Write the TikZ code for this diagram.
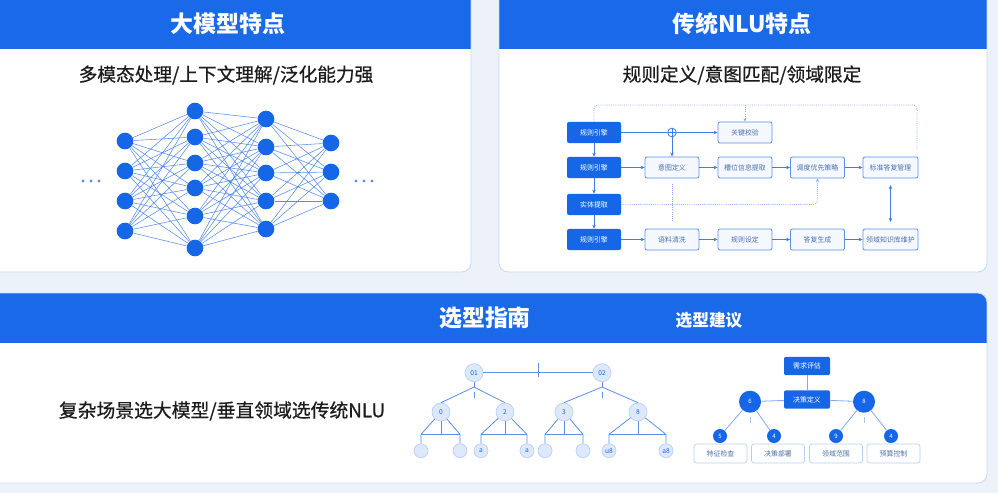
\documentclass[tikz,border=0pt]{standalone}
\usepackage{fontspec}
\setmainfont{Noto Sans CJK SC}
\newfontfamily\semifont[FakeBold=0.6]{Noto Sans CJK SC}
\usetikzlibrary{arrows.meta,positioning,calc}
\definecolor{pagebg}{HTML}{EDF2FA}
\definecolor{headblue}{HTML}{1A69E8}
\definecolor{nodeblue}{HTML}{1567E8}
\definecolor{edgeblue}{HTML}{3E7BE6}
\definecolor{lineblue}{HTML}{5B90E8}
\definecolor{paleblue}{HTML}{DDE9FB}
\definecolor{rimblue}{HTML}{B9CFF2}
\definecolor{dotblue}{HTML}{82AAEE}
\definecolor{inkgray}{HTML}{1C1C1C}
\definecolor{boxtext}{HTML}{4D70A8}
\definecolor{boxfill}{HTML}{F5F9FF}
\tikzset{
  panelrim/.style={draw=rimblue!80, line width=0.6pt, rounded corners=7pt},
  headtitle/.style={text=white, font=\fontsize{17.2}{20}\selectfont\bfseries},
  subtitle/.style={text=inkgray, font=\semifont\fontsize{14}{17}\selectfont},
  neuron/.style={circle, fill=nodeblue, inner sep=0pt, minimum size=12.5pt},
  synapse/.style={edgeblue, line width=0.42pt, opacity=0.85},
  rulebox/.style={rectangle, rounded corners=1.5pt, fill=nodeblue,
    text=white, minimum width=40.5pt, minimum height=15.8pt,
    inner sep=0pt, font=\fontsize{5.2}{6}\selectfont},
  stepbox/.style={rectangle, rounded corners=1.5pt, draw=lineblue,
    fill=boxfill, line width=0.6pt, text=boxtext,
    minimum width=#1, minimum height=15.8pt,
    inner sep=0pt, font=\fontsize{5.2}{6}\selectfont},
  stepbox/.default=40.5pt,
  flowarrow/.style={-{Stealth[length=3pt,width=2.6pt]}, edgeblue, line width=0.6pt},
  dotline/.style={dotblue, densely dotted, line width=0.6pt, rounded corners=3pt},
  treenode/.style={circle, fill=paleblue, draw=rimblue, line width=0.5pt,
    inner sep=0pt, minimum size=#1, text=nodeblue,
    font=\fontsize{5}{6}\selectfont},
  treenode/.default=13.5pt,
  treeline/.style={lineblue, line width=0.6pt},
  bluedot/.style={circle, fill=nodeblue, inner sep=0pt, minimum size=#1,
    text=white, font=\fontsize{4.5}{5}\selectfont},
  bluedot/.default=10.5pt,
  tagbox/.style={rectangle, rounded corners=2pt, fill=white, draw=rimblue,
    line width=0.5pt, text=boxtext, minimum width=39.8pt,
    minimum height=14.3pt, inner sep=0pt, font=\fontsize{5.2}{6}\selectfont},
  pickbox/.style={rectangle, rounded corners=1.5pt, fill=nodeblue,
    text=white, minimum width=34.5pt, minimum height=13.8pt,
    inner sep=0pt, font=\fontsize{5.2}{6}\selectfont},
}

\begin{document}
\begin{tikzpicture}[x=0.75pt, y=-0.75pt]
\fill[pagebg] (0,0) rectangle (998,493);
\useasboundingbox (0,0) rectangle (998,493);
\clip (0,0) rectangle (998,493);

% panels with blue headers
\foreach \xa/\ya/\xb/\yb/\hb in {-12/-12/471/272/49, 499/-12/987/272/49, -12/293/987/483/343} {
  \begin{scope}
    \clip[rounded corners=7pt] (\xa,\ya) rectangle (\xb,\yb);
    \fill[white] (\xa,\ya) rectangle (\xb,\yb);
    \fill[headblue] (\xa,\ya) rectangle (\xb,\hb);
  \end{scope}
  \draw[panelrim] (\xa,\ya) rectangle (\xb,\yb);
}

\node[headtitle] (llmtitle) at (228,24) {大模型特点};
\node[headtitle] (nlutitle) at (742,24) {传统NLU特点};
\node[headtitle] (guidetitle) at (485,318) {选型指南};
\node[text=white, font=\fontsize{12.5}{15}\selectfont\bfseries] (advice) at (709,320) {选型建议};
\node[subtitle] (llmsub) at (226,75) {多模态处理/上下文理解/泛化能力强};
\node[subtitle] (nlusub) at (742,75) {规则定义/意图匹配/领域限定};
\node[subtitle, font=\semifont\fontsize{14.1}{17}\selectfont] (pickrule) at (222,411) {复杂场景选大模型/垂直领域选传统NLU};

% neural network
\foreach \y [count=\i] in {141,171,201,231} \node[neuron] (a\i) at (125,\y) {};
\foreach \y [count=\i] in {111,137,163,188,216,248} \node[neuron] (b\i) at (195,\y) {};
\foreach \y [count=\i] in {119,147,173,201,229} \node[neuron] (c\i) at (266,\y) {};
\foreach \y [count=\i] in {143,172,201} \node[neuron] (d\i) at (331,\y) {};
\foreach \i in {1,...,4} \foreach \j in {1,...,6} \draw[synapse] (a\i) -- (b\j);
\foreach \i in {1,...,6} \foreach \j in {1,...,5} \draw[synapse] (b\i) -- (c\j);
\foreach \i in {1,...,5} \foreach \j in {1,...,3} \draw[synapse] (c\i) -- (d\j);
\foreach \x in {83,91,99,356,364,372} \fill[lineblue] (\x,181) circle (1.6);

% rule pipeline
\node[rulebox] (r1) at (594,132.5) {规则引擎};
\node[rulebox] (r2) at (594,167.5) {规则引擎};
\node[rulebox] (r3) at (594,204.5) {实体提取};
\node[rulebox] (r4) at (594,239.5) {规则引擎};
\node[circle, draw=edgeblue, fill=white, line width=0.6pt, minimum size=6.5pt, inner sep=0pt,
  path picture={\draw[edgeblue, line width=0.5pt]
    (path picture bounding box.north) -- (path picture bounding box.south)
    (path picture bounding box.west) -- (path picture bounding box.east);}] (plus) at (672,132.5) {};
\node[stepbox] (k1) at (745,132.5) {关键校验};
\node[stepbox] (q2) at (672,167.5) {意图定义};
\node[stepbox] (k2) at (745,167.5) {槽位信息提取};
\node[stepbox] (m2) at (817.5,167.5) {调度优先策略};
\node[stepbox=41.3pt] (n2) at (890.5,167.5) {标准答复管理};
\node[stepbox] (q4) at (672,239.5) {语料清洗};
\node[stepbox] (k4) at (745,239.5) {规则设定};
\node[stepbox] (m4) at (817.5,239.5) {答复生成};
\node[stepbox=41.3pt] (n4) at (890.5,239.5) {领域知识库维护};

\draw[edgeblue, line width=0.6pt] (r1) -- (plus);
\draw[flowarrow] (plus) -- (k1);
\draw[flowarrow] (plus) -- (q2);
\foreach \u/\v in {r1/r2, r2/r3, r3/r4} \draw[flowarrow] (\u) -- (\v);
\foreach \u/\v in {r2/q2, q2/k2, k2/m2, m2/n2, r4/q4, q4/k4, k4/m4, m4/n4} \draw[flowarrow] (\u) -- (\v);
\draw[{Stealth[length=3pt,width=2.6pt]}-{Stealth[length=3pt,width=2.6pt]}, edgeblue, line width=0.6pt,
  shorten <=5pt, shorten >=5pt] (n2) -- (n4);

% dotted feedback paths
\coordinate (loopL) at (594,105);
\coordinate (loopM) at (745,105);
\coordinate (loopR) at (917,105);
\coordinate (loopEnd) at (917,150);
\draw[dotline] (r1.north) -- (loopL) -- (loopR) -- (loopEnd);
\draw[dotline, -{Stealth[length=2.6pt,width=2.4pt]}] (loopM) -- (k1.north);
\draw[dotline, -{Stealth[length=2.6pt,width=2.4pt]}] (r3.east) -| (m2.south);
\draw[dotline, shorten <=4pt, shorten >=5pt] (q2) -- (q4);

% selection trees
\node[treenode] (t1) at (474,372.7) {01};
\node[treenode] (t2) at (602,372.7) {02};
\draw[treeline] (t1) -- (t2) coordinate[midway] (tmid);
\draw[treeline] ($(tmid)+(0,-10)$) -- ($(tmid)+(0,4)$);
\node[treenode] (u1) at (441,412) {0};
\node[treenode] (u2) at (505,412) {2};
\node[treenode] (u3) at (564,412) {3};
\node[treenode] (u4) at (638,412) {8};
\foreach \p/\l/\r in {t1/u1/u2, t2/u3/u4} {
  \draw[treeline] (\p.south) -- ++(0,5) coordinate (\p fork);
  \draw[treeline] (\p fork) -- (\l.north);
  \draw[treeline] (\p fork) -- (\r.north);
  \draw[treeline] ($(\p fork)+(0,5)$) -- ++(0,6);
}
\node[treenode=10.5pt] (v1) at (421,450.7) {};
\node[treenode=10.5pt] (v2) at (460,450.7) {};
\node[treenode=10.5pt] (v3) at (481,450.7) {a};
\node[treenode=10.5pt] (v4) at (527,450.7) {a};
\node[treenode=10.5pt] (v5) at (545,450.7) {};
\node[treenode=10.5pt] (v6) at (583,450.7) {};
\node[treenode=10.5pt] (v7) at (609,450.7) {u8};
\node[treenode=10.5pt] (v8) at (666,450.7) {a8};
\foreach \p/\l/\r in {u1/v1/v2, u2/v3/v4, u3/v5/v6, u4/v7/v8} {
  \draw[treeline] (\l.north) -- ++(0,-9) coordinate (\l top) -- (\p);
  \draw[treeline] (\r.north) -- ++(0,-9) coordinate (\r top) -- (\p);
  \draw[treeline] (\l top) -- (\r top);
  \draw[treeline] (\p.south) -- (\p.south |- \l top);
}

% decision tree
\node[pickbox] (p1) at (807,366) {需求评估};
\node[pickbox] (p2) at (807,399.5) {决策定义};
\node[bluedot=16.5pt] (g1) at (750,401.7) {6};
\node[bluedot=16.5pt] (g2) at (864,401.7) {8};
\node[bluedot] (s1) at (720,436) {5};
\node[bluedot] (s2) at (774,436) {4};
\node[bluedot] (s3) at (836,436) {9};
\node[bluedot] (s4) at (891,436) {4};
\node[tagbox] (w1) at (720.5,453.5) {特征检查};
\node[tagbox] (w2) at (778,453.5) {决策部署};
\node[tagbox] (w3) at (836,453.5) {领域范围};
\node[tagbox] (w4) at (893.5,453.5) {预算控制};
\draw[treeline, dotblue] (p1) -- (p2);
\draw[treeline, dotblue] (g1) -- (p2);
\draw[treeline, dotblue] (p2) -- (g2);
\foreach \u/\v in {g1/s1, g1/s2, g2/s3, g2/s4} \draw[treeline, dotblue] (\u) -- (\v);
\foreach \u in {g1, g2} \draw[treeline, dotblue!70] ($(\u.south)+(0,4)$) -- ++(0,6);
\end{tikzpicture}
\end{document}
